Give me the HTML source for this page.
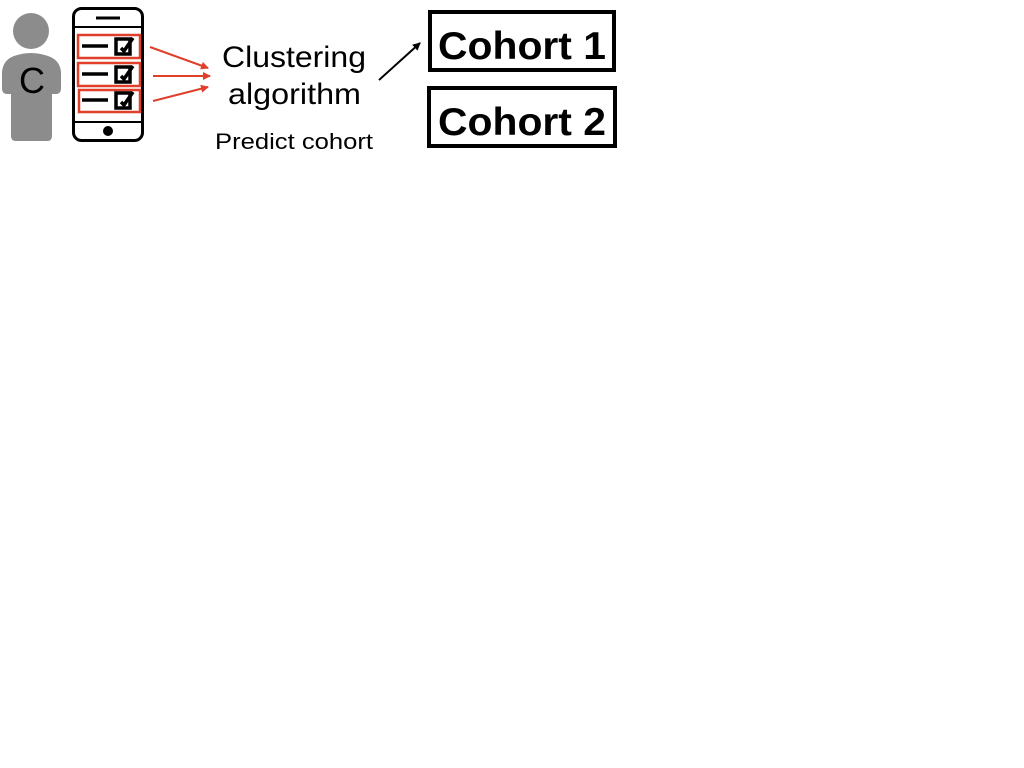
<!DOCTYPE html>
<html><head><style>
body{margin:0;width:1024px;height:768px;background:#fff;overflow:hidden;font-family:"Liberation Sans",sans-serif}
</style></head><body>
<svg width="1024" height="768" xmlns="http://www.w3.org/2000/svg" style="position:absolute;left:0;top:0">
<defs>
<marker id="ar" markerWidth="8" markerHeight="8" refX="7" refY="4" orient="auto" markerUnits="userSpaceOnUse"><path d="M0,0 L8,4 L0,8 z" fill="#e0402a"/></marker>
<marker id="ab" markerWidth="8" markerHeight="8" refX="7" refY="4" orient="auto" markerUnits="userSpaceOnUse"><path d="M0,0 L8,4 L0,8 z" fill="#000"/></marker>
</defs>
<circle cx="31" cy="31" r="18" fill="#8c8c8c"/>
<path d="M14,56 Q31,50 48,56 Q60,60 61,72 L61,88 Q61,94 56,94 L52,94 L52,136 Q52,141 47,141 L16,141 Q11,141 11,136 L11,94 L7,94 Q2,94 2,88 L2,72 Q3,60 14,56 Z" fill="#8c8c8c"/>
<text x="32" y="93" font-size="36" text-anchor="middle" fill="#000">C</text>
<rect x="73.5" y="8.5" width="69" height="132" rx="8" fill="#fff" stroke="#000" stroke-width="3"/>
<line x1="96" y1="18" x2="120" y2="18" stroke="#000" stroke-width="3"/>
<line x1="74" y1="27" x2="142" y2="27" stroke="#000" stroke-width="2"/>
<line x1="74" y1="122" x2="142" y2="122" stroke="#000" stroke-width="2"/>
<circle cx="108" cy="131" r="5" fill="#000"/>
<g stroke="#e0402a" stroke-width="2.5" fill="none">
<rect x="78" y="35" width="62" height="23"/>
<rect x="78" y="63" width="62" height="23"/>
<rect x="79" y="90" width="61" height="22"/>
</g>
<g stroke="#000" stroke-width="3.5" fill="none">
<line x1="82" y1="46" x2="108" y2="46"/><rect x="116" y="39" width="14" height="15"/><path d="M121,48 L124,51 L133,38"/>
<line x1="82" y1="74" x2="108" y2="74"/><rect x="116" y="67" width="14" height="15"/><path d="M121,76 L124,79 L133,66"/>
<line x1="82" y1="100" x2="108" y2="100"/><rect x="116" y="93" width="14" height="15"/><path d="M121,102 L124,105 L133,92"/>
</g>
<g stroke="#e0402a" stroke-width="2">
<line x1="150" y1="47" x2="208" y2="68" marker-end="url(#ar)"/>
<line x1="153" y1="76" x2="210" y2="76" marker-end="url(#ar)"/>
<line x1="153" y1="101" x2="208" y2="87" marker-end="url(#ar)"/>
</g>
<text x="222" y="67" font-size="30" textLength="144" lengthAdjust="spacingAndGlyphs">Clustering</text>
<text x="228" y="104" font-size="30" textLength="133" lengthAdjust="spacingAndGlyphs">algorithm</text>
<text x="215" y="149" font-size="22" textLength="158" lengthAdjust="spacingAndGlyphs">Predict cohort</text>
<line x1="379" y1="80" x2="420" y2="43" stroke="#000" stroke-width="2" marker-end="url(#ab)"/>
<rect x="430" y="12" width="184" height="58" fill="none" stroke="#000" stroke-width="4"/>
<text x="438" y="59" font-size="39" font-weight="bold" textLength="168" lengthAdjust="spacingAndGlyphs">Cohort 1</text>
<rect x="429" y="88" width="186" height="58" fill="none" stroke="#000" stroke-width="4"/>
<text x="438" y="135" font-size="39" font-weight="bold" textLength="168" lengthAdjust="spacingAndGlyphs">Cohort 2</text>
</svg>
</body></html>
